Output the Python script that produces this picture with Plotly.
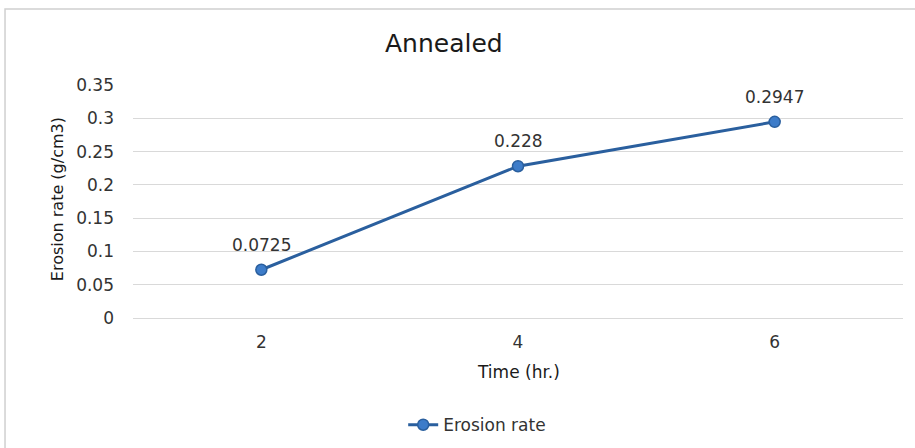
import plotly.graph_objects as go

# Erosion rate of the annealed sample over time
time_hr = [2, 4, 6]
erosion_rate = [0.0725, 0.228, 0.2947]
y_ticks = [0, 0.05, 0.1, 0.15, 0.2, 0.25, 0.3, 0.35]

FONT = "DejaVu Sans"
TEXT_COLOR = "#333333"
GRID = "#d9d9d9"

fig = go.Figure()
fig.add_trace(go.Scatter(
    x=time_hr,
    y=erosion_rate,
    mode="lines+markers",
    name="Erosion rate",
    line=dict(color="#2a5f9e", width=3),
    marker=dict(size=11, color="#3d7cc9", line=dict(color="#2a5f9e", width=1.5)),
    cliponaxis=False,
))

# value labels sitting above each point
value_labels = [
    dict(x=t, y=v, xref="x", yref="y", text=str(v), showarrow=False,
         yshift=25, xanchor="center", yanchor="middle",
         font=dict(family=FONT, size=17, color=TEXT_COLOR))
    for t, v in zip(time_hr, erosion_rate)
]

fig.update_layout(
    width=915,
    height=448,
    margin=dict(l=133, r=12, t=85, b=130, autoexpand=False),
    paper_bgcolor="white",
    plot_bgcolor="white",
    showlegend=True,
    legend=dict(
        orientation="h",
        x=0.447, xanchor="center",
        y=-0.46, yanchor="middle",
        font=dict(family=FONT, size=17, color=TEXT_COLOR),
        bgcolor="rgba(0,0,0,0)",
    ),
    xaxis=dict(
        range=[1, 7],
        tickvals=time_hr,
        ticktext=[str(t) for t in time_hr],
        showgrid=False,
        zeroline=False,
        showline=False,
        ticks="",
        tickfont=dict(family=FONT, size=17, color=TEXT_COLOR),
        ticklabelstandoff=12,
    ),
    yaxis=dict(
        range=[0, 0.35],
        tickvals=y_ticks,
        ticktext=[f"{v:g}" for v in y_ticks],
        showgrid=True,
        gridcolor=GRID,
        gridwidth=1,
        zeroline=True,
        zerolinecolor=GRID,
        zerolinewidth=1,
        showline=False,
        ticks="",
        tickfont=dict(family=FONT, size=17, color=TEXT_COLOR),
        ticklabelstandoff=18,
    ),
    annotations=value_labels + [
        dict(text="Annealed", x=0.4045, y=1.176, xref="paper", yref="paper",
             showarrow=False, xanchor="center", yanchor="middle",
             font=dict(family=FONT, size=25, color="#1a1a1a")),
        dict(text="Erosion rate (g/cm3)", x=-0.0987, y=0.51, xref="paper", yref="paper",
             showarrow=False, textangle=-90, xanchor="center", yanchor="middle",
             font=dict(family=FONT, size=16, color="#1a1a1a")),
        dict(text="Time (hr.)", x=0.5, y=-0.232, xref="paper", yref="paper",
             showarrow=False, xanchor="center", yanchor="middle",
             font=dict(family=FONT, size=17, color="#1a1a1a")),
    ],
    shapes=[
        dict(type="rect", xref="paper", yref="paper",
             x0=-0.1662, x1=1.1, y0=-0.7, y1=1.326,
             line=dict(color="#d0d0d0", width=1.5), fillcolor="rgba(0,0,0,0)",
             layer="below"),
    ],
)

fig.write_html("out.html")
